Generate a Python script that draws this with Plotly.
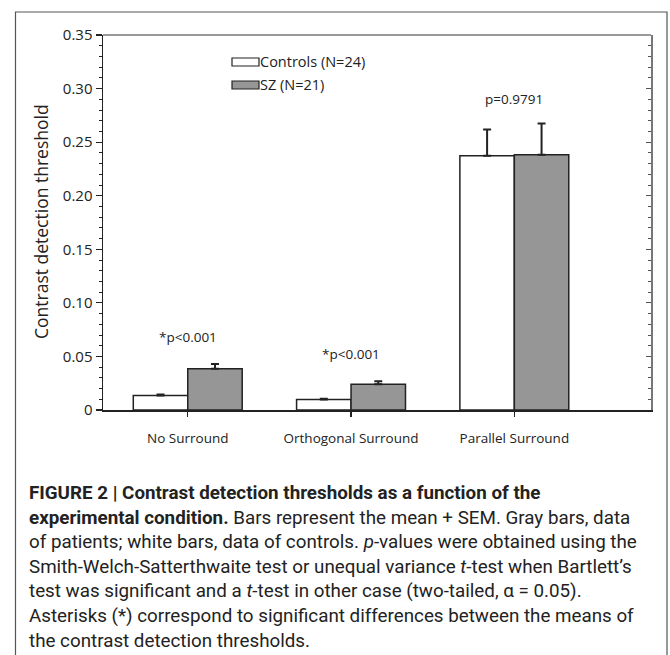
import plotly.graph_objects as go

# ---------------- data ----------------
categories = ["No Surround", "Orthogonal Surround", "Parallel Surround"]
controls_mean = [0.0136, 0.0098, 0.2372]
controls_sem = [0.0008, 0.0008, 0.0245]
sz_mean = [0.0386, 0.0241, 0.2382]
sz_sem = [0.0043, 0.0028, 0.0292]
p_labels = ["*p<0.001", "*p<0.001", "p=0.9791"]
p_label_y = [0.0685, 0.0525, 0.290]
y_ticks = [0, 0.05, 0.10, 0.15, 0.20, 0.25, 0.30, 0.35]
y_ticktext = ["0", "0.05", "0.10", "0.15", "0.20", "0.25", "0.30", "0.35"]
legend_names = ["Controls (N=24)", "SZ (N=21)"]

caption_lines = [
    "<b>FIGURE 2 | Contrast detection thresholds as a function of the</b>",
    "<b>experimental condition.</b> Bars represent the mean + SEM. Gray bars, data",
    "of patients; white bars, data of controls. <i>p</i>-values were obtained using the",
    "Smith-Welch-Satterthwaite test or unequal variance <i>t</i>-test when Bartlett\u2019s",
    "test was significant and a <i>t</i>-test in other case (two-tailed, \u03b1 = 0.05).",
    "Asterisks (*) correspond to significant differences between the means of",
    "the contrast detection thresholds.",
]

# ---------------- geometry (pixels) ----------------
W, H = 670, 655
PL, PR, PT, PB = 103, 651, 35, 410


def px(x):
    return (x - PL) / (PR - PL)


def py(y):
    return (PB - y) / (PB - PT)


xpos = list(range(len(categories)))
CHART_FONT = "Open Sans, Lato, sans-serif"
CAP_FONT = "Roboto, Liberation Sans, sans-serif"

fig = go.Figure()
fig.add_trace(go.Bar(
    x=xpos, y=controls_mean, name=legend_names[0],
    marker=dict(color="white", line=dict(color="#222222", width=1.5)),
    error_y=dict(type="data", symmetric=False, array=controls_sem,
                 arrayminus=[0] * len(controls_sem), color="#222222",
                 thickness=2, width=4),
    showlegend=False,
))
fig.add_trace(go.Bar(
    x=xpos, y=sz_mean, name=legend_names[1],
    marker=dict(color="#969696", line=dict(color="#222222", width=1.5)),
    error_y=dict(type="data", symmetric=False, array=sz_sem,
                 arrayminus=[0] * len(sz_sem), color="#222222",
                 thickness=2, width=4),
    showlegend=False,
))
# invisible trace to anchor the right axis
fig.add_trace(go.Scatter(x=[0], y=[0], yaxis="y2", mode="markers",
                         marker=dict(opacity=0), showlegend=False,
                         hoverinfo="skip"))

annotations = []
for i, lab in enumerate(p_labels):
    annotations.append(dict(x=xpos[i], y=p_label_y[i], xref="x", yref="y",
                            xanchor="center", text=lab, showarrow=False,
                            font=dict(family=CHART_FONT, size=13.5, color="#222")))

# legend (custom boxes)
leg_y = [62, 85]
leg_fill = ["white", "#969696"]
shapes = []
for k in range(2):
    shapes.append(dict(type="rect", xref="paper", yref="paper",
                       x0=px(232), x1=px(259), y0=py(leg_y[k] + 4), y1=py(leg_y[k] - 4),
                       fillcolor=leg_fill[k], line=dict(color="#222", width=1.2)))
    annotations.append(dict(x=px(258), y=py(leg_y[k]), xref="paper", yref="paper",
                            xanchor="left", yanchor="middle", showarrow=False,
                            text=legend_names[k],
                            font=dict(family=CHART_FONT, size=14.5, color="#222")))

# top border of plot (gray)
shapes.append(dict(type="line", xref="paper", yref="paper", x0=0, x1=1, y0=1, y1=1,
                   line=dict(color="#777777", width=1.5)))
# outer frame
shapes.append(dict(type="rect", xref="paper", yref="paper",
                   x0=px(15.5), x1=px(667), y0=py(12), y1=py(662),
                   line=dict(color="#555555", width=1.2), fillcolor="rgba(0,0,0,0)",
                   layer="below"))

# y axis title
annotations.append(dict(x=px(41), y=py(222), xref="paper", yref="paper",
                        xanchor="center", yanchor="middle",
                        text="Contrast detection threshold", textangle=-90,
                        showarrow=False,
                        font=dict(family=CHART_FONT, size=17.5, color="#222")))

# caption
for j, line in enumerate(caption_lines):
    annotations.append(dict(x=px(27), y=py(493 + j * 24.6), xref="paper", yref="paper",
                            xanchor="left", yanchor="middle", showarrow=False,
                            text=line, align="left",
                            font=dict(family=CAP_FONT, size=18.8, color="#222")))

fig.update_layout(
    width=W, height=H,
    margin=dict(l=PL, r=W - PR, t=PT, b=H - PB, autoexpand=False),
    paper_bgcolor="white", plot_bgcolor="white",
    barmode="group", bargap=0.333, bargroupgap=0,
    xaxis=dict(range=[-0.519, 2.837], tickmode="array", tickvals=xpos,
               ticktext=categories, ticks="outside", ticklen=5, tickwidth=1.2,
               tickcolor="#222", showline=True, linecolor="#222", linewidth=1.5,
               showgrid=False, zeroline=False, ticklabelstandoff=10,
               tickfont=dict(family=CHART_FONT, size=13.5, color="#222")),
    yaxis=dict(range=[0, 0.35], tickmode="array", tickvals=y_ticks,
               ticktext=y_ticktext, ticks="outside", ticklen=6, tickwidth=1.2,
               tickcolor="#222", showline=True, linecolor="#222", linewidth=1.5,
               showgrid=False, zeroline=False,
               minor=dict(dtick=0.01, ticks="outside", ticklen=3, tickcolor="#222",
                          tickwidth=1, showgrid=False),
               tickfont=dict(family=CHART_FONT, size=15, color="#222")),
    yaxis2=dict(range=[0, 0.35], overlaying="y", side="right",
                tickmode="array", tickvals=y_ticks, ticks="inside", ticklen=5,
                tickwidth=1.2, tickcolor="#555", showticklabels=False,
                showline=True, linecolor="#777777", linewidth=1.5,
                showgrid=False, zeroline=False,
                minor=dict(dtick=0.01, ticks="inside", ticklen=3, tickcolor="#555",
                           tickwidth=1, showgrid=False)),
    annotations=annotations,
    shapes=shapes,
    showlegend=False,
)

fig.write_html("out.html",
               config={"displayModeBar": False, "staticPlot": True},
               post_script="document.body.style.margin='0px';"
                           "document.body.style.overflow='hidden';")
